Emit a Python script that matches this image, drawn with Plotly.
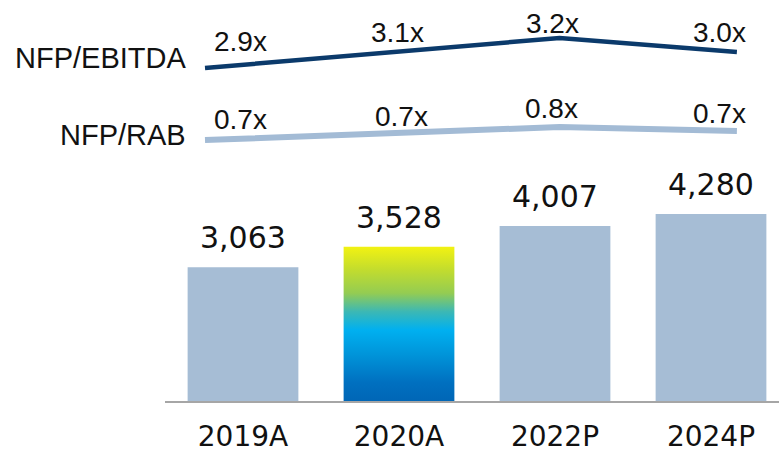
import plotly.graph_objects as go

# ---- data ----
categories = ["2019A", "2020A", "2022P", "2024P"]
nfp_values = [3063, 3528, 4007, 4280]
nfp_labels = ["3,063", "3,528", "4,007", "4,280"]
ebitda_ratio = [2.90, 3.05, 3.20, 3.06]
ebitda_labels = ["2.9x", "3.1x", "3.2x", "3.0x"]
rab_ratio = [0.700, 0.732, 0.765, 0.745]
rab_labels = ["0.7x", "0.7x", "0.8x", "0.7x"]
series_names = ["NFP/EBITDA", "NFP/RAB"]
highlight = "2020A"

# ---- styles ----
W, H = 779, 452
BAR_COLOR = "#a6bdd5"
EBITDA_COLOR = "#0b3a6b"
RAB_COLOR = "#a3bbd5"
AXIS_COLOR = "#a6a6a6"
TEXT_COLOR = "#111111"
ARIAL = "Liberation Sans, Arial, sans-serif"
VERDANA = "DejaVu Sans, Verdana, sans-serif"
BAR_WIDTH = 0.71
GRADIENT = [
    [0.0, "#0066b6"], [0.12, "#0070c0"], [0.30, "#0094d9"],
    [0.46, "#00b0f0"], [0.58, "#3cb8b4"], [0.70, "#94cc52"],
    [0.85, "#c2dc2e"], [1.0, "#f2f212"],
]
# label offsets (pixels) for ratio labels
ebitda_dx = [35, 15, -7, -17]
ebitda_dy = [27, 21, 15, 20]
rab_dx = [35, 19, -8, -17]
rab_dy = [21, 17, 19, 18]

xs = list(range(len(categories)))
hi = categories.index(highlight)

fig = go.Figure()

bar_colors = ["rgba(0,0,0,0)" if c == highlight else BAR_COLOR for c in categories]
fig.add_trace(go.Bar(x=xs, y=nfp_values, width=BAR_WIDTH, marker=dict(color=bar_colors, line=dict(width=0)),
                     xaxis="x", yaxis="y", hoverinfo="skip"))

# gradient-filled highlighted bar
hx0, hx1 = xs[hi] - BAR_WIDTH / 2, xs[hi] + BAR_WIDTH / 2
fig.add_trace(go.Scatter(
    x=[hx0, hx1, hx1, hx0, hx0], y=[0, 0, nfp_values[hi], nfp_values[hi], 0],
    mode="lines", line=dict(width=0, color="rgba(0,0,0,0)"), fill="toself",
    fillgradient=dict(type="vertical", colorscale=GRADIENT),
    xaxis="x", yaxis="y", hoverinfo="skip"))

fig.add_trace(go.Scatter(x=xs, y=ebitda_ratio, mode="lines",
                         line=dict(color=EBITDA_COLOR, width=4.5), xaxis="x2", yaxis="y2"))
fig.add_trace(go.Scatter(x=xs, y=rab_ratio, mode="lines",
                         line=dict(color=RAB_COLOR, width=6), xaxis="x3", yaxis="y3"))

annotations = []
for i, (v, t) in enumerate(zip(nfp_values, nfp_labels)):
    annotations.append(dict(x=xs[i], y=v, xref="x", yref="y", text=t, showarrow=False,
                            yanchor="bottom", yshift=10, font=dict(family=VERDANA, size=30, color=TEXT_COLOR)))
for i, (v, t) in enumerate(zip(ebitda_ratio, ebitda_labels)):
    annotations.append(dict(x=xs[i], y=v, xref="x2", yref="y2", text=t, showarrow=False,
                            xshift=ebitda_dx[i], yshift=ebitda_dy[i],
                            font=dict(family=ARIAL, size=28, color=TEXT_COLOR)))
for i, (v, t) in enumerate(zip(rab_ratio, rab_labels)):
    annotations.append(dict(x=xs[i], y=v, xref="x3", yref="y3", text=t, showarrow=False,
                            xshift=rab_dx[i], yshift=rab_dy[i],
                            font=dict(family=ARIAL, size=28, color=TEXT_COLOR)))
annotations.append(dict(x=188 / W, y=1 - 58 / H, xref="paper", yref="paper", text=series_names[0],
                        showarrow=False, xanchor="right", yanchor="middle",
                        font=dict(family=ARIAL, size=29, color=TEXT_COLOR)))
annotations.append(dict(x=188 / W, y=1 - 135 / H, xref="paper", yref="paper", text=series_names[1],
                        showarrow=False, xanchor="right", yanchor="middle",
                        font=dict(family=ARIAL, size=29, color=TEXT_COLOR)))

line_range = [-205 / 177.3, (W - 205) / 177.3]
fig.update_layout(
    width=W, height=H, margin=dict(l=0, r=0, t=0, b=0, autoexpand=False),
    paper_bgcolor="white", plot_bgcolor="white", showlegend=False,
    annotations=annotations,
    xaxis=dict(domain=[165 / W, 1], range=[-0.5, -0.5 + (W - 165) / 156], tickvals=xs, ticktext=categories,
               showline=True, linecolor=AXIS_COLOR, linewidth=2, showgrid=False, zeroline=False,
               ticks="", ticklabelstandoff=9,
               tickfont=dict(family=VERDANA, size=28, color=TEXT_COLOR), anchor="y"),
    yaxis=dict(domain=[51 / H, 282 / H], range=[0, 231 / 0.0437], visible=False),
    xaxis2=dict(domain=[0, 1], range=line_range, visible=False, anchor="y2"),
    yaxis2=dict(domain=[352 / H, 1], range=[2.58, 3.58], visible=False),
    xaxis3=dict(domain=[0, 1], range=line_range, visible=False, anchor="y3"),
    yaxis3=dict(domain=[292 / H, 352 / H], range=[0.60, 0.90], visible=False),
)

fig.write_html("out.html", config={"displayModeBar": False},
               post_script="document.body.style.margin='0';document.body.style.overflow='hidden';")
